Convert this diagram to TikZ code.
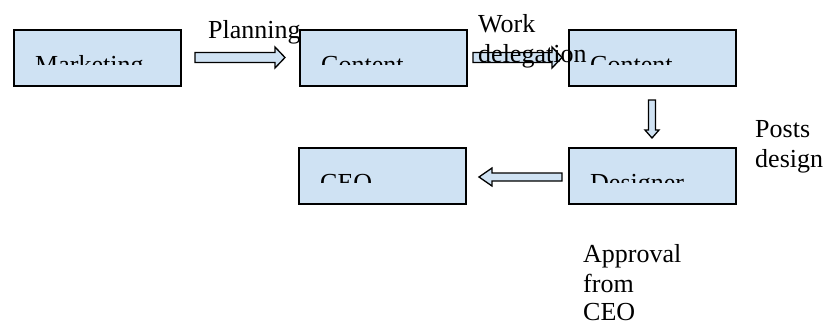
\documentclass[tikz,border=0pt]{standalone}
\usepackage{fontspec}
\setmainfont{Liberation Serif}
\usetikzlibrary{calc}
\definecolor{boxfill}{RGB}{207,226,243}
\tikzset{
  stage/.style={draw=black, line width=1.7pt, fill=boxfill, minimum width=167pt,
    minimum height=56pt, inner sep=0pt, anchor=north west},
  arrowshape/.style={draw=black, line width=1.3pt, fill=boxfill, line join=miter},
  lbl/.style={anchor=base west, inner sep=0pt, font=\fontsize{26}{30}\selectfont},
}
% text of a stage box, cut off by the lower part of the box window
\newcommand\stagetext[2]{%
  \begin{scope}
    \clip (#1.north west) rectangle ($(#1.north east)+(0,35)$);
    \node[lbl] (#1-t) at ($(#1.north west)+(22,44)$) {#2};
  \end{scope}}
% hollow block arrow: #1 tail, #2 tip, #3 shaft half width, #4 head half width, #5 head length
\newcommand\blockarrow[5]{%
  \coordinate (hb) at ($(#2)!#5pt!(#1)$);
  \draw[arrowshape] ($(#1)!#3pt!90:(#2)$) -- ($(hb)!#3pt!90:(#2)$)
    -- ($(hb)!#4pt!90:(#2)$) -- (#2) -- ($(hb)!#4pt!-90:(#2)$)
    -- ($(hb)!#3pt!-90:(#2)$) -- ($(#1)!#3pt!-90:(#2)$) -- cycle;}
\begin{document}
\begin{tikzpicture}[x=1pt,y=-1pt]
\useasboundingbox (0,0) rectangle (827,322);

% stages
\node[stage] (mkt) at (13,29) {};
\node[stage] (cnt1) at (299,29) {};
\node[stage] (cnt2) at (568,29) {};
\node[stage] (ceo) at (298,147) {};
\node[stage] (des) at (568,147) {};

\stagetext{mkt}{Marketing}
\stagetext{cnt1}{Content}
\stagetext{cnt2}{Content}
\stagetext{ceo}{CEO}
\stagetext{des}{Designer}

% flow arrows
\coordinate (a1s) at (195,57.5);  \coordinate (a1t) at (285,57.5);
\coordinate (a2s) at (473,57.5);  \coordinate (a2t) at (562,57.5);
\coordinate (a3s) at (652,100);   \coordinate (a3t) at (652,138);
\coordinate (a4s) at (562,177);   \coordinate (a4t) at (479,177);
\blockarrow{a1s}{a1t}{5}{10.5}{10}
\blockarrow{a2s}{a2t}{5}{10.5}{10}
\blockarrow{a3s}{a3t}{3.5}{7}{8}
\blockarrow{a4s}{a4t}{4}{9}{13}

% labels
\node[lbl] (lplan) at (208,38) {Planning};
\node[lbl] (lwork) at (478,32) {Work};
\node[lbl] (ldele) at (478,62) {delegation};
\node[lbl] (lposts) at (755,137) {Posts};
\node[lbl] (ldesign) at (755,167) {design};
\node[lbl] (lappr) at (583,262) {Approval};
\node[lbl] (lfrom) at (583,292) {from};
\node[lbl] (lceo) at (583,320) {CEO};
\end{tikzpicture}
\end{document}
